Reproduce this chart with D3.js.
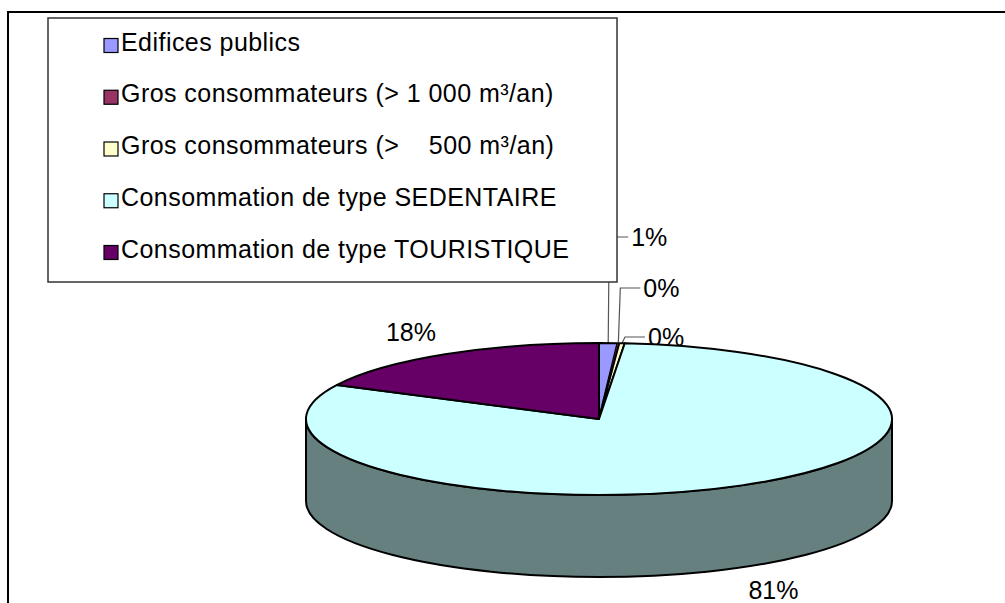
<!DOCTYPE html>
<html>
<head>
<meta charset="utf-8">
<script src="https://cdn.jsdelivr.net/npm/d3@7"></script>
<style>
  html, body { margin: 0; padding: 0; background: #fff; }
  svg { display: block; }
  text { font-family: "Liberation Sans", Arial, Helvetica, sans-serif; white-space: pre; }
</style>
</head>
<body>
<svg id="chart" width="1005" height="603"></svg>
<script>
// ---- data ----
const categories = [
  "Edifices publics",
  "Gros consommateurs (> 1 000 m³/an)",
  "Gros consommateurs (>    500 m³/an)",
  "Consommation de type SEDENTAIRE",
  "Consommation de type TOURISTIQUE"
];
const values = [1.0, 0.1, 0.3, 81.0, 17.6];
const colors = ["#9999FF", "#993366", "#FFFFCC", "#CCFFFF", "#660066"];

// ---- layout ----
const cx = 599, cy = 419, rx = 293, ry = 76, depth = 82;
const fontSize = 25;
// leader-line label layout for the small slices: elbow offset and horizontal run
const leaderLayout = {
  0: { elbowDx: 1, elbowY: 237, run: 19 },
  1: { elbowDx: 2, elbowY: 288, run: 20 },
  2: { elbowDx: 3, elbowY: 337, run: 20 }
};

const svg = d3.select("#chart");

// outer frame
svg.append("rect")
  .attr("x", 8).attr("y", 12).attr("width", 1200).attr("height", 800)
  .attr("fill", "#fff").attr("stroke", "#000").attr("stroke-width", 2);

const pie = d3.pie().sort(null).value(d => d)(values);

const pt = (a, dy = 0) => [cx + rx * Math.sin(a), cy - ry * Math.cos(a) + dy];
const darken = c => { const r = d3.rgb(c); return d3.rgb(r.r * 0.5, r.g * 0.5, r.b * 0.5).formatHex(); };

// labels (drawn first, the pie edge passes over them)
const gLab = svg.append("g");
pie.forEach((s, i) => {
  const mid = (s.startAngle + s.endAngle) / 2;
  const txt = Math.round(values[i]) + "%";
  if (leaderLayout[i]) {
    const L = leaderLayout[i];
    const p0 = pt(mid);
    const ex = p0[0] + L.elbowDx;
    gLab.append("polyline")
      .attr("points", [[p0[0], p0[1]], [ex, L.elbowY], [ex + L.run, L.elbowY]].map(p => p.join(",")).join(" "))
      .attr("fill", "none").attr("stroke", "#555").attr("stroke-width", 1.2);
    gLab.append("text")
      .attr("x", ex + L.run + 3).attr("y", L.elbowY + 9)
      .attr("font-size", fontSize).attr("fill", "#000").text(txt);
  } else {
    const sx = Math.sin(mid), cyv = Math.cos(mid);
    const x = cx + (rx + 65) * sx;
    const y = cy - (ry + 26) * cyv + (cyv < 0 ? depth : 0);
    gLab.append("text")
      .attr("x", x).attr("y", y + 9)
      .attr("text-anchor", "middle")
      .attr("font-size", fontSize).attr("fill", "#000").text(txt);
  }
});

// side walls (front half only)
const gPie = svg.append("g");
pie.forEach((s, i) => {
  const a0 = Math.max(s.startAngle, Math.PI / 2);
  const a1 = Math.min(s.endAngle, 3 * Math.PI / 2);
  if (a1 <= a0) return;
  const p0 = pt(a0), p1 = pt(a1), q1 = pt(a1, depth), q0 = pt(a0, depth);
  const large = (a1 - a0) > Math.PI ? 1 : 0;
  const d = `M${p0}A${rx},${ry} 0 ${large} 1 ${p1}L${q1}A${rx},${ry} 0 ${large} 0 ${q0}Z`;
  gPie.append("path").attr("d", d)
    .attr("fill", darken(colors[i]))
    .attr("stroke", "#000").attr("stroke-width", 2).attr("stroke-linejoin", "round");
});

// top faces
pie.forEach((s, i) => {
  const p0 = pt(s.startAngle), p1 = pt(s.endAngle);
  const large = (s.endAngle - s.startAngle) > Math.PI ? 1 : 0;
  const d = `M${cx},${cy}L${p0}A${rx},${ry} 0 ${large} 1 ${p1}Z`;
  gPie.append("path").attr("d", d)
    .attr("fill", colors[i])
    .attr("stroke", "#000").attr("stroke-width", (s.endAngle - s.startAngle) < 0.01 ? 0.6 : 2)
    .attr("stroke-linejoin", "round");
});

// legend
const gLeg = svg.append("g");
gLeg.append("rect")
  .attr("x", 48).attr("y", 18).attr("width", 569).attr("height", 264)
  .attr("fill", "#fff").attr("stroke", "#333").attr("stroke-width", 1.5);
const legendY = d3.scalePoint().domain(categories).range([50.5, 257.5]);
categories.forEach((c, i) => {
  const by = legendY(c);
  gLeg.append("rect")
    .attr("x", 104).attr("y", by - 12).attr("width", 14).attr("height", 14)
    .attr("fill", colors[i]).attr("stroke", "#000").attr("stroke-width", 1.2);
  gLeg.append("text")
    .attr("x", 121).attr("y", by)
    .attr("font-size", fontSize).attr("letter-spacing", 0.45)
    .attr("fill", "#000").text(c);
});
</script>
</body>
</html>
